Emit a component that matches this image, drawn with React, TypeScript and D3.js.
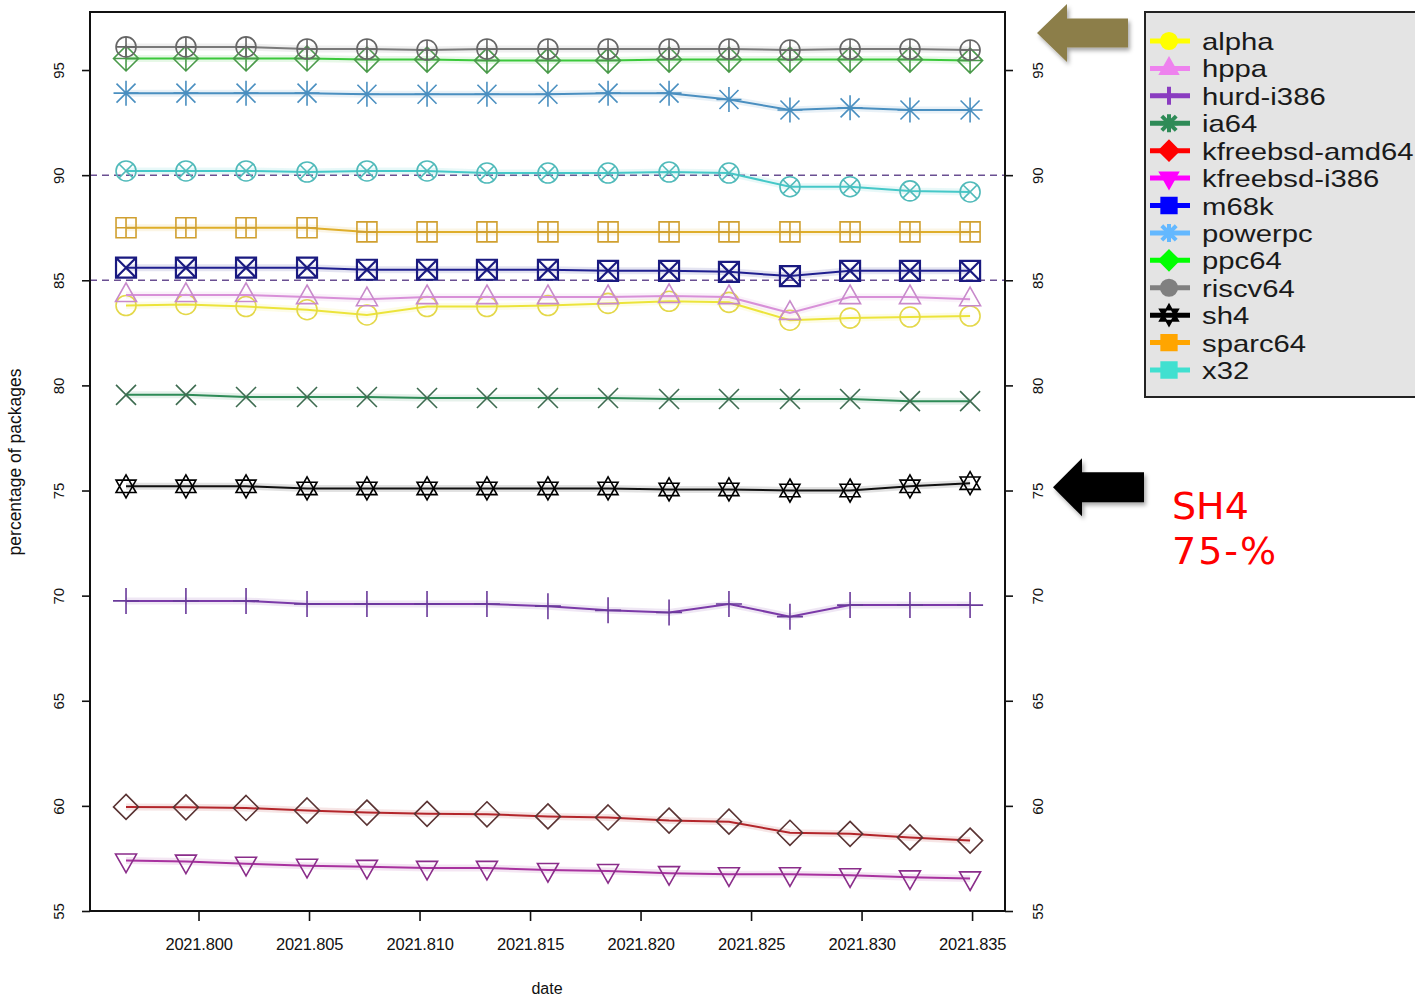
import React, { useEffect, useRef } from 'react';
import * as d3 from 'd3';

// sample dates (fractional years, one per day)
const dates = [
  2021.79672, 2021.79943, 2021.80215, 2021.80491, 2021.80762, 2021.81034, 2021.81305,
  2021.81581, 2021.81853, 2021.82129, 2021.824, 2021.82676, 2021.82948, 2021.83219, 2021.83491,
];

const alpha = [83.8, 83.85, 83.75, 83.6, 83.35, 83.75, 83.75, 83.8, 83.9, 84.0, 83.95, 83.1, 83.2, 83.25, 83.3];
const hppa = [84.3, 84.3, 84.3, 84.2, 84.1, 84.2, 84.2, 84.2, 84.2, 84.25, 84.2, 83.45, 84.2, 84.2, 84.1];
const hurdI386 = [69.75, 69.75, 69.75, 69.6, 69.6, 69.6, 69.6, 69.5, 69.3, 69.2, 69.6, 69.0, 69.55, 69.55, 69.55];
const ia64 = [79.55, 79.55, 79.45, 79.45, 79.45, 79.4, 79.4, 79.4, 79.4, 79.35, 79.35, 79.35, 79.35, 79.25, 79.25];
const kfreebsdAmd64 = [59.95, 59.93, 59.9, 59.78, 59.68, 59.62, 59.6, 59.5, 59.45, 59.3, 59.25, 58.72, 58.67, 58.5, 58.35];
const kfreebsdI386 = [57.4, 57.35, 57.25, 57.15, 57.1, 57.05, 57.05, 56.95, 56.9, 56.8, 56.75, 56.75, 56.7, 56.6, 56.55];
const m68k = [85.6, 85.6, 85.6, 85.6, 85.5, 85.5, 85.5, 85.5, 85.45, 85.45, 85.4, 85.2, 85.45, 85.45, 85.45];
const powerpc = [93.9, 93.9, 93.9, 93.9, 93.85, 93.85, 93.85, 93.85, 93.9, 93.9, 93.6, 93.1, 93.2, 93.1, 93.1];
const ppc64 = [95.55, 95.55, 95.55, 95.55, 95.5, 95.5, 95.45, 95.45, 95.45, 95.5, 95.5, 95.5, 95.5, 95.5, 95.45];
const riscv64 = [96.1, 96.1, 96.1, 96.0, 96.0, 95.95, 96.0, 96.0, 96.0, 96.0, 96.0, 95.95, 96.0, 96.0, 95.95];
const sh4 = [75.2, 75.2, 75.2, 75.1, 75.1, 75.1, 75.1, 75.1, 75.1, 75.05, 75.05, 75.0, 75.0, 75.2, 75.35];
const sparc64 = [87.5, 87.5, 87.5, 87.5, 87.3, 87.3, 87.3, 87.3, 87.3, 87.3, 87.3, 87.3, 87.3, 87.3, 87.3];
const x32 = [90.2, 90.2, 90.2, 90.15, 90.2, 90.2, 90.1, 90.1, 90.1, 90.15, 90.1, 89.45, 89.45, 89.25, 89.2];

const archNames = [
  'alpha', 'hppa', 'hurd-i386', 'ia64', 'kfreebsd-amd64', 'kfreebsd-i386', 'm68k',
  'powerpc', 'ppc64', 'riscv64', 'sh4', 'sparc64', 'x32',
];
const archValues = [alpha, hppa, hurdI386, ia64, kfreebsdAmd64, kfreebsdI386, m68k, powerpc, ppc64, riscv64, sh4, sparc64, x32];

const yTicks = [55, 60, 65, 70, 75, 80, 85, 90, 95];
const xTicks = [2021.8, 2021.805, 2021.81, 2021.815, 2021.82, 2021.825, 2021.83, 2021.835];
const refLines = [85, 90];

// styles (same order as archNames)
const lineColors = ['#ece43a', '#d890d8', '#7b3aa8', '#2e8b57', '#b3262b', '#a8329f', '#1f1f8f', '#4a8fc0', '#3cc83c', '#7a7a7a', '#111111', '#dfae2a', '#45c8c8'];
const markColors = ['#e4d84a', '#c88acb', '#6a3a9a', '#3d6b50', '#5a3333', '#8a2d8a', '#1a1a80', '#4a8fc0', '#4a9a4a', '#666666', '#000000', '#d0a030', '#50baba'];
const legendColors = ['#ffff00', '#ee82ee', '#8a3cc0', '#2e8b57', '#ff0000', '#ff00ff', '#0000ff', '#63b8ff', '#00ff00', '#808080', '#000000', '#ffa500', '#40e0d0'];

const W = 1415;
const H = 997;

const circ = (r: number) => `M${-r},0A${r},${r} 0 1,0 ${r},0A${r},${r} 0 1,0 ${-r},0Z`;
const triUp = (r: number) => `M0,${-r * 1.15}L${r},${r * 0.62}L${-r},${r * 0.62}Z`;
const triDown = (r: number) => `M0,${r * 1.15}L${r},${-r * 0.62}L${-r},${-r * 0.62}Z`;
const plus = (r: number) => `M${-r},0H${r}M0,${-r}V${r}`;
const cross = (r: number) => `M${-r},${-r}L${r},${r}M${-r},${r}L${r},${-r}`;
const diamond = (r: number) => `M0,${-r}L${r},0L0,${r}L${-r},0Z`;
const square = (r: number) => `M${-r},${-r}H${r}V${r}H${-r}Z`;

// R-style pch 1..13
function markerPath(i: number, r: number) {
  switch (i) {
    case 0: return circ(r);
    case 1: return triUp(r * 1.05);
    case 2: return plus(r * 1.3);
    case 3: return cross(r);
    case 4: return diamond(r * 1.25);
    case 5: return triDown(r * 1.05);
    case 6: return square(r) + cross(r);
    case 7: return plus(r * 1.25) + cross(r * 0.95);
    case 8: return diamond(r * 1.25) + plus(r * 1.25);
    case 9: return circ(r) + plus(r);
    case 10: return triUp(r) + triDown(r);
    case 11: return square(r) + plus(r);
    default: return circ(r) + cross(r * 0.72);
  }
}

function legendPath(i: number, r: number) {
  switch (i) {
    case 1: return triUp(r);
    case 2: return plus(r);
    case 3: return plus(r) + cross(r * 0.8);
    case 4: return diamond(r * 1.1);
    case 5: return triDown(r);
    case 6: return square(r * 0.85);
    case 7: return plus(r) + cross(r * 0.8);
    case 8: return diamond(r * 1.1);
    case 10: return triUp(r) + triDown(r);
    case 11: return square(r * 0.85);
    case 12: return square(r * 0.85);
    default: return circ(r * 0.9);
  }
}

const App = () => {
  const ref = useRef<SVGSVGElement>(null);

  useEffect(() => {
    const svg = d3.select(ref.current);
    svg.selectAll('*').remove();

    const left = 90, right = 1005, top = 12, bottom = 911;
    const x = d3.scaleLinear().domain([2021.79509, 2021.83649]).range([left, right]);
    const y = d3.scaleLinear().domain([55, 97.76]).range([bottom, top]);
    const font = "'Liberation Sans', Arial, sans-serif";

    const defs = svg.append('defs');
    const f = defs.append('filter').attr('id', 'shadow').attr('x', '-20%').attr('y', '-20%').attr('width', '150%').attr('height', '150%');
    f.append('feDropShadow').attr('dx', 2).attr('dy', 3).attr('stdDeviation', 2).attr('flood-opacity', 0.35);

    // reference dashed lines
    svg.append('g').selectAll('line').data(refLines).join('line')
      .attr('x1', left).attr('x2', right)
      .attr('y1', d => y(d)).attr('y2', d => y(d))
      .attr('stroke', '#6a4f92').attr('stroke-width', 1.5).attr('stroke-dasharray', '7,5');

    const line = d3.line<number>().x((_, i) => x(dates[i])).y(d => y(d));

    archValues.forEach((vals, k) => {
      const g = svg.append('g');
      g.append('path').attr('d', line(vals)).attr('fill', 'none')
        .attr('stroke', lineColors[k]).attr('stroke-width', 7).attr('stroke-opacity', 0.12);
      g.append('path').attr('d', line(vals)).attr('fill', 'none')
        .attr('stroke', lineColors[k]).attr('stroke-width', 2);
      g.selectAll('path.m').data(vals).join('path').attr('class', 'm')
        .attr('transform', (d, i) => `translate(${x(dates[i])},${y(d)})`)
        .attr('d', markerPath(k, 10))
        .attr('fill', 'none').attr('stroke', markColors[k]).attr('stroke-width', k === 6 ? 2.2 : 1.6);
    });

    // box
    svg.append('rect').attr('x', left).attr('y', top).attr('width', right - left).attr('height', bottom - top)
      .attr('fill', 'none').attr('stroke', '#111').attr('stroke-width', 2);

    // axes
    const yl = svg.append('g').attr('transform', `translate(${left},0)`)
      .call(d3.axisLeft(y).tickValues(yTicks).tickSize(8).tickFormat(d3.format('d')));
    const yr = svg.append('g').attr('transform', `translate(${right},0)`)
      .call(d3.axisRight(y).tickValues(yTicks).tickSize(8).tickFormat(d3.format('d')));
    const xb = svg.append('g').attr('transform', `translate(0,${bottom})`)
      .call(d3.axisBottom(x).tickValues(xTicks).tickSize(10).tickFormat(d3.format('.3f')));
    [yl, yr, xb].forEach(a => {
      a.select('.domain').remove();
      a.selectAll('line').attr('stroke', '#111').attr('stroke-width', 1.6);
      a.selectAll('text').attr('font-family', font).attr('fill', '#111');
    });
    yl.selectAll('text').attr('x', 0).attr('dy', 0).attr('font-size', 15).attr('text-anchor', 'middle')
      .attr('transform', 'translate(-26,0) rotate(-90)');
    yr.selectAll('text').attr('x', 0).attr('dy', 0).attr('font-size', 15).attr('text-anchor', 'middle')
      .attr('transform', 'translate(38,0) rotate(-90)');
    xb.selectAll('text').attr('y', 27).attr('font-size', 16.5).attr('letter-spacing', -0.2);

    svg.append('text').attr('x', 547).attr('y', 994).attr('text-anchor', 'middle')
      .attr('font-family', font).attr('font-size', 16).attr('fill', '#111').text('date');
    svg.append('text').attr('transform', 'translate(21,462) rotate(-90)').attr('text-anchor', 'middle')
      .attr('font-family', font).attr('font-size', 17.5).attr('fill', '#111').text('percentage of packages');

    // legend
    const lg = svg.append('g');
    lg.append('rect').attr('x', 1145).attr('y', 12).attr('width', 290).attr('height', 385)
      .attr('fill', '#e4e4e4').attr('stroke', '#222').attr('stroke-width', 2);
    const ly = d3.scaleLinear().domain([0, archNames.length - 1]).range([41, 370]);
    archNames.forEach((name, k) => {
      const cy = ly(k);
      lg.append('line').attr('x1', 1150).attr('x2', 1190).attr('y1', cy).attr('y2', cy)
        .attr('stroke', legendColors[k]).attr('stroke-width', 5);
      const open = k === 2 || k === 3 || k === 7;
      lg.append('path').attr('transform', `translate(1169,${cy})`).attr('d', legendPath(k, 9))
        .attr('fill', open ? 'none' : legendColors[k]).attr('stroke', legendColors[k])
        .attr('stroke-width', open ? 4 : 2);
      lg.append('text').attr('transform', `translate(1202,${cy + 9}) scale(1.22,1)`)
        .attr('font-family', font).attr('font-size', 24).attr('fill', '#1a1a1a').text(name);
    });

    // annotations
    const arrow = (tipX: number, tipY: number, headW: number, headH: number, shaftH: number, tailX: number) =>
      `M${tipX},${tipY}L${tipX + headW},${tipY - headH / 2}V${tipY - shaftH / 2}H${tailX}V${tipY + shaftH / 2}H${tipX + headW}V${tipY + headH / 2}Z`;
    svg.append('path').attr('d', arrow(1037, y(96.76), 30, 58, 29, 1128))
      .attr('fill', '#8c7e4a').attr('filter', 'url(#shadow)');
    svg.append('path').attr('d', arrow(1053, y(75.15), 29, 58, 30, 1144))
      .attr('fill', '#000').attr('filter', 'url(#shadow)');

    const note = svg.append('text').attr('font-family', "'DejaVu Sans', Verdana, sans-serif")
      .attr('font-size', 38).attr('fill', '#ff0000');
    note.append('tspan').attr('x', 1172).attr('y', 519).text('SH4');
    note.append('tspan').attr('x', 1172).attr('y', 564).attr('letter-spacing', 2).text('75-%');
  }, []);

  return (
    <svg ref={ref} width={W} height={H}
      style={{ position: 'absolute', left: 0, top: 0, background: '#fff' }} />
  );
};

export default App;
